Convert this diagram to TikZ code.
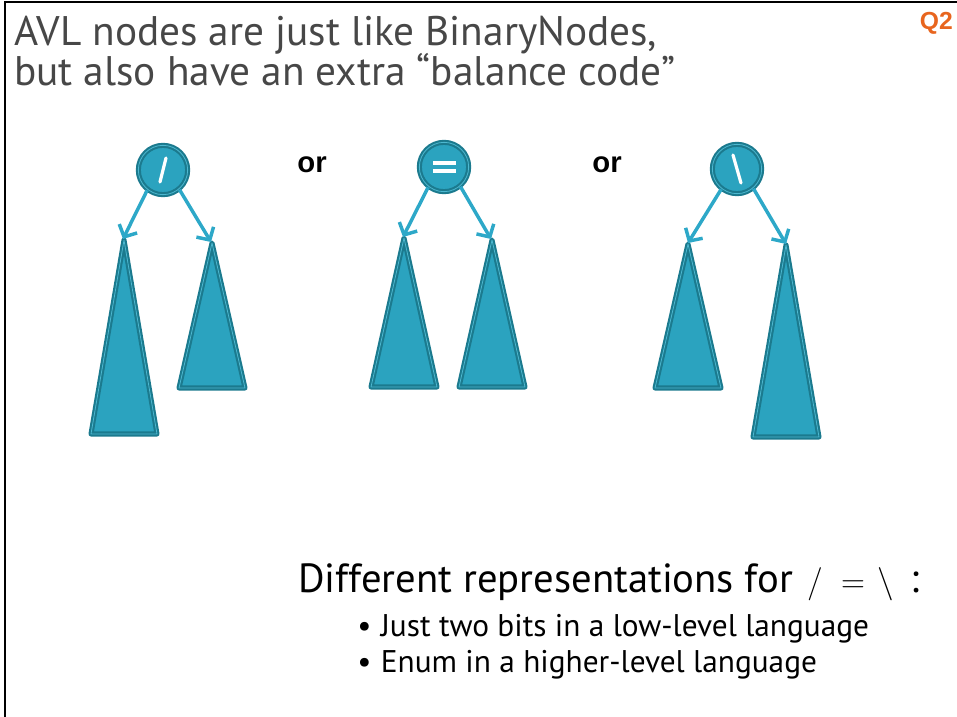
\documentclass[tikz,border=0pt]{standalone}
\usepackage{fontspec}
\setmainfont{PT Sans}
\newfontfamily\boldsans{Liberation Sans}
\usetikzlibrary{arrows.meta}
\definecolor{tfill}{HTML}{2BA3BF}
\definecolor{tdark}{HTML}{1B7A8E}
\definecolor{tlight}{HTML}{4DB8D0}
\definecolor{tarrow}{HTML}{2DA8C8}
\definecolor{ttitle}{HTML}{474747}
\definecolor{qorange}{HTML}{E8651E}
\tikzset{
  subtree/.style={fill=tfill, draw=tdark, double=tlight, double distance=0.6pt, line width=1.6pt, line join=round},
  balnode/.style={circle, fill=tfill, draw=tdark, double=tlight, double distance=0.6pt, line width=1.6pt, minimum size=37pt, inner sep=0pt},
  childarrow/.style={draw=tarrow, line width=2.6pt, -{Straight Barb[length=7pt,width=15pt,line width=2.6pt]}},
  sym/.style={draw=white, line width=2.4pt, line cap=round},
  title/.style={anchor=base west, text=ttitle, font=\fontsize{31}{36}\selectfont, inner sep=0pt},
  ortext/.style={anchor=base, font=\boldsans\bfseries\fontsize{22}{26}\selectfont, inner sep=0pt},
  bigtext/.style={anchor=base west, font=\fontsize{30.5}{36}\selectfont, inner sep=0pt},
  mathsym/.style={anchor=base, font=\fontsize{24}{28}\selectfont, inner sep=0pt},
  bullettext/.style={anchor=base west, font=\fontsize{23.5}{28}\selectfont, inner sep=0pt},
}
\begin{document}
\begin{tikzpicture}[x=0.75pt,y=-0.75pt]
\useasboundingbox (0,0) rectangle (957,717);
% frame
\draw[line width=1.8pt, black] (5,717) -- (5,2) -- (957,2);
% title
\node[title] (t1) at (14,46) {AVL nodes are just like BinaryNodes,};
\node[title] (t2) at (14,86) {but also have an extra “balance code”};
\node[anchor=base east, text=qorange, font=\boldsans\bfseries\fontsize{18.5}{22}\selectfont, inner sep=0pt] (q2) at (953,30) {Q2};
% or
\node[ortext] (or1) at (312,172) {or};
\node[ortext] (or2) at (607,172) {or};

% tree 1
\draw[subtree] (124,240) -- (157,434) -- (91,434) -- cycle;
\draw[subtree] (212,243) -- (245,388) -- (179,388) -- cycle;
\coordinate (a1l) at (123,239);
\coordinate (a1r) at (211,242);
\node[balnode] (r1) at (163,170) {};
\draw[sym] (r1.center) ++(-3,12) -- ++(6,-24);
\draw[childarrow] (r1.-128) -- (a1l);
\draw[childarrow] (r1.-50) -- (a1r);

% tree 2
\draw[subtree] (404,238) -- (437,387) -- (371,387) -- cycle;
\draw[subtree] (492,240) -- (525,387) -- (459,387) -- cycle;
\coordinate (a2l) at (403,237);
\coordinate (a2r) at (491,239);
\node[balnode] (r2) at (444,167) {};
\draw[sym, line cap=butt] (r2.center) ++(-11,-4) -- ++(23,0);
\draw[sym, line cap=butt] (r2.center) ++(-11,4) -- ++(23,0);
\draw[childarrow] (r2.-128) -- (a2l);
\draw[childarrow] (r2.-50) -- (a2r);

% tree 3
\draw[subtree] (688,244) -- (721,388) -- (655,388) -- cycle;
\draw[subtree] (786,245) -- (819,437) -- (753,437) -- cycle;
\coordinate (a3l) at (688,243);
\coordinate (a3r) at (786,244);
\node[balnode] (r3) at (737,169) {};
\draw[sym] (r3.center) ++(-4,-14) -- ++(8,28);
\draw[childarrow] (r3.-128) -- (a3l);
\draw[childarrow] (r3.-50) -- (a3r);

% bottom text
\node[bigtext] (d) at (298,592) {Different representations for};
\node[mathsym] (s1) at (815,592) {$/$};
\node[mathsym] (s2) at (853,592) {$=$};
\node[mathsym] (s3) at (886,592) {$\backslash$};
\node[anchor=base, font=\fontsize{30.5}{36}\selectfont, inner sep=0pt] (s4) at (915,592) {:};
\node[bullettext] (b1) at (357,636) {•\hspace{0.3em}Just two bits in a low-level language};
\node[bullettext] (b2) at (357,672) {•\hspace{0.3em}Enum in a higher-level language};
\end{tikzpicture}
\end{document}
